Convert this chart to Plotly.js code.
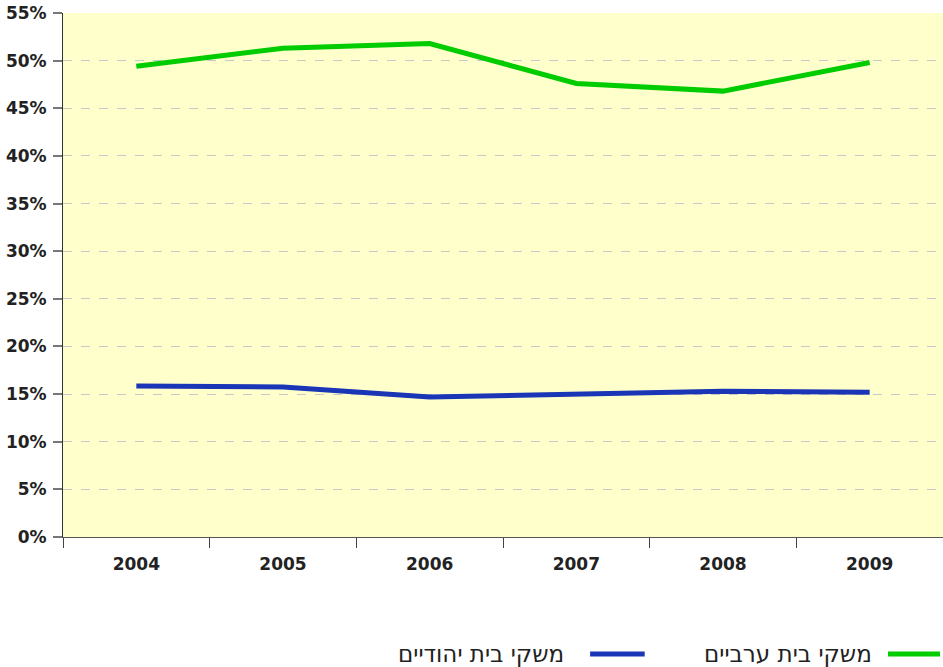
<!DOCTYPE html>
<html>
<head>
<meta charset="utf-8">
<script src="https://cdn.plot.ly/plotly-3.0.1.min.js"></script>
<style>html,body{margin:0;padding:0;background:#fff;overflow:hidden;}#chart{width:943px;height:667px;}</style>
</head>
<body>
<div id="chart"></div>
<script>
const years = ["2004", "2005", "2006", "2007", "2008", "2009"];
const arabHouseholds = [49.4, 51.3, 51.8, 47.6, 46.8, 49.8];
const jewishHouseholds = [15.85, 15.75, 14.7, 15.0, 15.3, 15.2];
const seriesNames = ["משקי בית ערביים", "משקי בית יהודיים"];
const seriesColors = ["#00cc00", "#1a35b5"];
const yTickVals = [0, 5, 10, 15, 20, 25, 30, 35, 40, 45, 50, 55];
const yTickText = yTickVals.map(v => v + "%");

const tickFont = "DejaVu Sans, sans-serif";
const legendFont = "DejaVu Sans, sans-serif";

const traces = [
  {x: years, y: arabHouseholds, name: seriesNames[0], type: "scatter", mode: "lines",
   line: {color: seriesColors[0], width: 5}, hoverinfo: "skip"},
  {x: years, y: jewishHouseholds, name: seriesNames[1], type: "scatter", mode: "lines",
   line: {color: seriesColors[1], width: 5}, hoverinfo: "skip"}
];

const legendItems = [
  {name: seriesNames[0], color: seriesColors[0], x0: 0.9375, x1: 0.9966, tx: 0.9216},
  {name: seriesNames[1], color: seriesColors[1], x0: 0.599, x1: 0.661, tx: 0.5716}
];
const legendY = -0.2233;

const layout = {
  width: 943, height: 667,
  margin: {l: 63, r: 0, t: 13, b: 130, pad: 0},
  paper_bgcolor: "#ffffff",
  plot_bgcolor: "#ffffcc",
  showlegend: false,
  font: {family: tickFont, color: "#222"},
  xaxis: {
    type: "category", range: [-0.5, 5.5], fixedrange: true, automargin: false,
    tickson: "boundaries", ticks: "outside", ticklen: 10, tickcolor: "#444", tickwidth: 1,
    ticklabelstandoff: 12,
    showline: true, linecolor: "#555", linewidth: 1,
    showgrid: false, zeroline: false,
    tickfont: {family: tickFont, size: 17, color: "#222", weight: "bold"}
  },
  yaxis: {
    range: [0, 55], fixedrange: true, automargin: false,
    tickvals: yTickVals, ticktext: yTickText,
    ticks: "outside", ticklen: 9, tickcolor: "#777", tickwidth: 2,
    ticklabelstandoff: 3,
    showline: true, linecolor: "#333", linewidth: 1,
    showgrid: true, gridcolor: "#c8c8c8", griddash: "dash", gridwidth: 1,
    zeroline: false,
    tickfont: {family: tickFont, size: 17, color: "#222", weight: "bold"}
  },
  shapes: legendItems.map(it => ({
    type: "line", xref: "paper", yref: "paper",
    x0: it.x0, x1: it.x1, y0: legendY, y1: legendY,
    line: {color: it.color, width: 5}
  })),
  annotations: legendItems.map(it => ({
    xref: "paper", yref: "paper", x: it.tx, y: legendY,
    xanchor: "right", yanchor: "middle", showarrow: false,
    text: it.name, font: {family: legendFont, size: 23, color: "#222"}
  }))
};

Plotly.newPlot("chart", traces, layout, {displayModeBar: false, staticPlot: true});
</script>
</body>
</html>
